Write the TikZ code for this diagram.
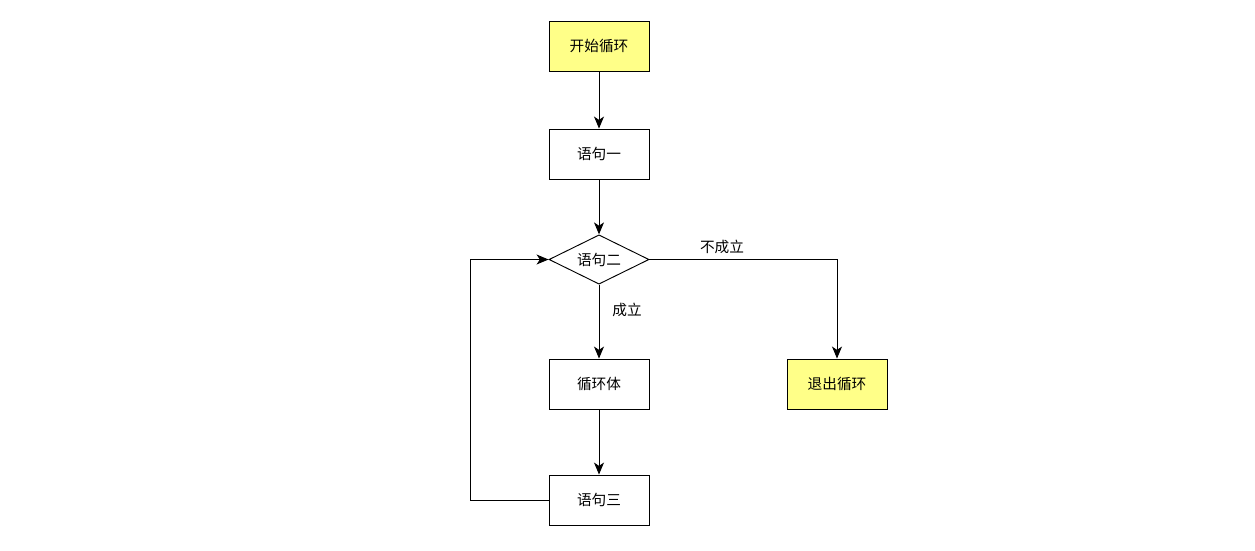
\documentclass[tikz,border=0pt]{standalone}
\usepackage{fontspec}
\setmainfont{Noto Sans CJK SC}
\usetikzlibrary{arrows.meta,shapes.geometric,positioning}
\definecolor{startend}{HTML}{FFFF88}

\tikzset{
  stepbox/.style={draw, minimum width=75pt, minimum height=37.5pt, inner sep=0pt},
  endbox/.style={stepbox, fill=startend},
  test/.style={draw, diamond, aspect=2, minimum width=75pt, minimum height=37pt, inner sep=0pt},
  flow/.style={-{Stealth[length=9pt,width=7.5pt,inset=2.5pt]}},
}

\begin{document}
\begin{tikzpicture}[x=0.75pt, y=-0.75pt, line width=0.7pt,
    font=\fontsize{11pt}{13pt}\selectfont]
        \useasboundingbox (0,0) rectangle (1255,550);
        \path
        % main column
        (599,46) node[endbox](start) {开始循环}
        (599,154) node[stepbox](s1) {语句一}
        (599,259.5) node[test](s2) {语句二}
        (599,384) node[stepbox](body) {循环体}
        (599,500) node[stepbox](s3) {语句三}

        % exit
        (837,384) node[endbox](exit) {退出循环}

        % labels
        (722,247) node(no) {不成立}
        (627,310) node(yes) {成立}
        ;
        \coordinate (back) at (470,500);

        \draw[flow] (start) -- (s1);
        \draw[flow] (s1) -- (s2);
        \draw[flow] (s2) -- (body);
        \draw[flow] (body) -- (s3);
        \draw[flow] (s2) -| (exit);
        \draw[flow] (s3) -- (back) |- (s2);
      \end{tikzpicture}
\end{document}
